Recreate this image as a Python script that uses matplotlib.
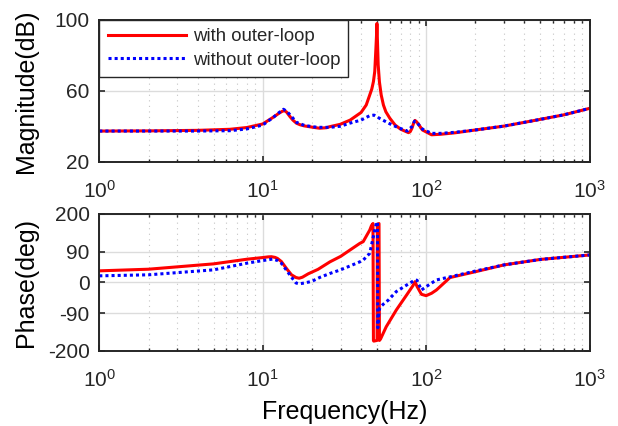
import matplotlib

matplotlib.use("Agg")
import matplotlib.pyplot as plt
import numpy as np
from matplotlib.ticker import FixedLocator, LogLocator, NullFormatter

# magnitude (dB)
MAG_RED_FREQ = [1, 2, 4, 6.3, 8, 10, 11.6, 12.6, 13.2, 13.6, 14.0, 14.7, 15.3, 16.1, 17, 18, 20.4, 22.3, 24.6, 25.8, 29.8, 34.3, 40, 43,
                45.2, 46.5, 47.6, 48.5, 49.3, 49.7, 50, 50.3, 50.9, 51.8, 53.1, 54.8, 56.7, 60, 64.6, 70, 78, 80, 82, 84, 85.5,
                87.5, 90, 95, 108, 123, 150, 200, 300, 500, 700, 1000]
MAG_RED = [37.3, 37.4, 37.7, 38.3, 39.3, 41.3, 45.1, 47.4, 48.5, 48.8, 48.0, 45.4, 43.5, 41.7, 40.8, 40.2, 39.4, 38.9, 39.2, 39.8, 41.1, 43.5, 47.8, 52.0,
           57.7, 61.0, 65.2, 71.0, 84.0, 91.0, 98.0, 90.0, 74.6, 65.0, 57.7, 52.0, 48.2, 44.5, 40.7, 38.3, 36.4, 37.0, 39.0, 42.0, 43.3,
           42.5, 41.0, 37.9, 35.2, 35.5, 36.3, 37.9, 40.1, 43.9, 46.5, 50.1]
MAG_BLUE_FREQ = [1, 2, 4, 6.3, 8, 10, 11.6, 12.5, 13.4, 14, 14.7, 16.1, 18, 20.4, 22, 25.8, 29.8, 34.3, 40, 45.2, 48, 50, 54.3, 62, 69.5, 76.6,
                 81.8, 85, 88, 95, 108, 123, 150, 200, 300, 500, 700, 1000]
MAG_BLUE = [37.3, 37.3, 37.3, 37.5, 38.5, 40.7, 45.0, 47.5, 49.6, 48.5, 46.5, 42.2, 40.5, 39.7, 39.4, 39.4, 40.0, 41.8, 43.5, 46.0, 46.3, 45.3, 43.5, 40.7, 38.8, 37.3,
            39.8, 42.9, 42.0, 38.4, 36.0, 36.0, 36.6, 37.9, 40.1, 43.9, 46.5, 50.1]

# phase (deg)
PH_RED_FREQ = [1, 2, 5, 8, 10, 10.8, 11.3, 11.9, 12.3, 13, 14, 15, 16, 16.7, 17.5, 19, 21.8, 25.8, 30, 34.2, 39.3, 41.2, 45.2, 46.3, 47.3, 47.6, 47.8,
               50.1, 50.3, 51.5, 51.8, 52.6, 57, 65.7, 76, 83, 85.5, 88, 93.6, 100, 108, 115.6, 140, 200, 300, 500, 1000]
PH_RED = [33.6, 38.4, 54, 67.6, 72.5, 74.5, 75, 73, 70, 61, 40, 22, 14, 12, 15, 25, 38, 60, 76, 94.5, 114, 119, 153, 166, 172, -170, -172,
          -170, 170, 172, -170, -166, -130, -81, -37, -10, 2, -12, -35, -39, -32, -22.5, 14, 31, 51, 67, 80]
PH_BLUE_FREQ = [1, 2, 5, 8, 10, 11.5, 12.3, 13, 14, 15, 16, 16.7, 18, 20, 22.4, 25.8, 29.7, 32.7, 39.3, 41.2, 45.2, 48.5, 49.9, 50.4, 50.6,
                51.2, 52, 55, 58.7, 65.7, 76, 85.5, 88, 93.6, 103.5, 115.6, 140, 200, 300, 500, 1000]
PH_BLUE = [19, 22, 36.5, 56, 63.7, 68, 64, 56, 35, 15, -2, -4.4, -2, 3, 14.6, 26, 36, 44, 60, 65, 85, 153, 177, 176, -133,
           -98, -74, -63, -52, -27, -8, 7, 6, -22.5, -8, 7, 16, 33, 51, 67, 80]

XTICKS = [1, 10, 100, 1000]
XTICK_LABELS = [r"$10^{0}$", r"$10^{1}$", r"$10^{2}$", r"$10^{3}$"]
MAG_TICKS = [20, 60, 100]
PH_TICKS = [-200, -90, 0, 90, 200]

plt.rcParams.update({
    "font.family": ["Liberation Sans", "DejaVu Sans"],
    "mathtext.fontset": "custom",
    "mathtext.rm": "Liberation Sans",
    "mathtext.it": "Liberation Sans",
    "axes.unicode_minus": False,
    "font.size": 15,
    "xtick.direction": "in",
    "ytick.direction": "in",
    "xtick.top": True,
    "ytick.right": True,
    "axes.linewidth": 1.4,
    "axes.edgecolor": "#262626",
    "xtick.color": "#262626",
    "ytick.color": "#262626",
    "text.color": "#262626",
})

DOTS = (0, (1, 1))


def style_axis(ax, yticks):
    ax.set_xscale("log")
    ax.set_xlim(1, 1000)
    ax.set_ylim(yticks[0], yticks[-1])
    ax.yaxis.set_major_locator(FixedLocator(yticks))
    ax.set_xticks(XTICKS, XTICK_LABELS)
    ax.xaxis.set_minor_locator(LogLocator(base=10, subs=np.arange(2, 10)))
    ax.xaxis.set_minor_formatter(NullFormatter())
    ax.tick_params(which="major", length=4, width=1.2, labelsize=15)
    ax.tick_params(axis="x", which="major", pad=13)
    ax.tick_params(axis="y", which="major", pad=7)
    ax.tick_params(which="minor", length=2.5, width=1.0)
    ax.grid(which="major", color="#dcdcdc", linewidth=1.0)
    ax.grid(which="minor", axis="x", color="#c4c4c4", linestyle=(0, (1, 4)), linewidth=0.8)
    ax.set_axisbelow(True)


fig = plt.figure(figsize=(6.18, 4.26), dpi=100)
ax1 = fig.add_axes([0.1607, 0.6204, 0.7932, 0.3327])
ax2 = fig.add_axes([0.1607, 0.1768, 0.7932, 0.3209])

ax1.plot(MAG_RED_FREQ, MAG_RED, color="red", linewidth=2.2, label="with outer-loop")
ax1.plot(MAG_BLUE_FREQ, MAG_BLUE, color="blue", linewidth=2.2, linestyle=DOTS, label="without outer-loop")
style_axis(ax1, MAG_TICKS)
ax1.set_ylabel("Magnitude(dB)", fontsize=18)
ax1.yaxis.set_label_coords(-0.125, 0.5)
leg = ax1.legend(loc="upper left", fontsize=13.4, handlelength=4.2, frameon=True, fancybox=False,
                 borderaxespad=0.0, borderpad=0.45, labelspacing=0.35, handletextpad=0.36)
leg.get_frame().set_edgecolor("#262626")
leg.get_frame().set_linewidth(1.0)
leg.get_frame().set_alpha(1.0)

ax2.plot(PH_RED_FREQ, PH_RED, color="red", linewidth=2.2)
ax2.plot(PH_BLUE_FREQ, PH_BLUE, color="blue", linewidth=2.2, linestyle=DOTS)
style_axis(ax2, PH_TICKS)
ax2.set_ylabel("Phase(deg)", fontsize=18)
ax2.yaxis.set_label_coords(-0.125, 0.5)
ax2.set_xlabel("Frequency(Hz)", fontsize=18)
ax2.xaxis.set_label_coords(0.5, -0.36)

fig.savefig("out.png", dpi=100)
